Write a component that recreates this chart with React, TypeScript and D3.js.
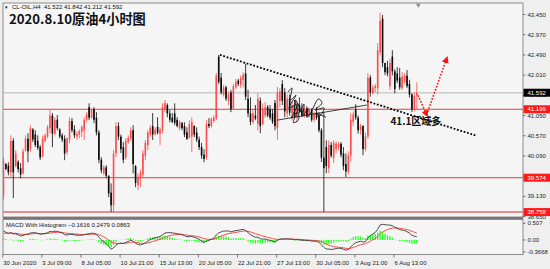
import React, { useEffect, useRef } from 'react';
import * as d3 from 'd3';

// CL-OIL H4, 30 Jun - 10 Aug 2020. Each bar: [open, high, low, close]
const BARS: [number, number, number, number][] = [
  [39.15, 40.06, 39.04, 39.98], [39.90, 39.92, 39.75, 39.78], [39.86, 39.94, 39.63, 39.70], [39.70, 40.58, 39.59, 40.45],
  [40.45, 40.51, 39.09, 39.70], [39.85, 40.23, 39.82, 40.15], [39.95, 39.99, 39.70, 39.78], [39.80, 39.92, 39.56, 39.65],
  [39.68, 40.27, 39.65, 40.20], [40.22, 40.58, 40.20, 40.50], [40.50, 40.63, 39.94, 40.20], [40.25, 40.82, 40.18, 40.75],
  [40.72, 40.75, 40.42, 40.48], [40.60, 40.70, 40.30, 40.35], [40.45, 40.58, 40.23, 40.28], [40.30, 40.35, 39.99, 40.05],
  [40.08, 40.58, 40.05, 40.50], [40.45, 40.63, 40.42, 40.58], [40.55, 40.82, 40.51, 40.78], [40.75, 41.18, 40.63, 41.05],
  [41.05, 41.11, 40.30, 40.62], [40.62, 41.01, 40.58, 40.95], [40.95, 41.06, 40.70, 40.75], [40.72, 40.75, 40.51, 40.55],
  [40.58, 40.63, 40.42, 40.48], [40.50, 40.58, 39.99, 40.15], [40.18, 40.54, 40.12, 40.50], [40.48, 41.01, 40.39, 40.92],
  [40.92, 40.99, 40.65, 40.70], [40.72, 40.82, 40.51, 40.58], [40.55, 40.68, 40.47, 40.62], [40.60, 40.72, 40.51, 40.68],
  [40.66, 40.82, 40.54, 40.78], [40.70, 41.01, 40.47, 40.95], [40.95, 41.13, 40.89, 41.08], [41.25, 41.34, 40.94, 41.00],
  [41.00, 41.22, 40.98, 41.18], [41.20, 41.25, 40.87, 40.95], [41.00, 41.13, 40.58, 40.65], [40.65, 40.70, 39.92, 40.00],
  [40.00, 40.06, 39.68, 39.75], [39.68, 39.87, 39.63, 39.82], [39.82, 39.87, 39.56, 39.62], [39.62, 39.63, 39.11, 39.20],
  [39.22, 39.44, 38.76, 38.92], [38.92, 40.23, 38.76, 40.15], [40.15, 40.89, 40.06, 40.80], [40.80, 40.89, 40.47, 40.55],
  [40.55, 40.60, 40.16, 40.25], [40.30, 40.42, 39.92, 40.00], [40.05, 40.51, 40.00, 40.45], [40.42, 40.58, 40.38, 40.52],
  [40.50, 40.77, 40.45, 40.70], [40.70, 40.82, 39.68, 39.90], [39.85, 39.87, 39.35, 39.45], [39.40, 39.68, 39.28, 39.60],
  [39.55, 39.76, 39.35, 39.70], [39.65, 40.23, 39.59, 40.15], [40.10, 40.47, 39.99, 40.40], [40.35, 40.70, 40.23, 40.65],
  [40.60, 40.82, 40.54, 40.76], [40.80, 41.11, 40.47, 40.60], [40.60, 40.77, 40.58, 40.72], [40.78, 41.01, 40.60, 40.64],
  [40.62, 40.77, 40.35, 40.72], [40.70, 41.34, 40.63, 41.25], [41.20, 41.42, 41.13, 41.35], [41.30, 41.34, 41.01, 41.10],
  [41.10, 41.18, 40.89, 40.95], [41.00, 41.11, 40.87, 40.90], [41.10, 41.34, 40.82, 40.88], [40.95, 41.01, 40.77, 40.80],
  [40.75, 40.94, 40.70, 40.90], [40.88, 40.89, 40.70, 40.75], [40.80, 40.89, 40.54, 40.60], [40.65, 40.77, 40.47, 40.50],
  [40.52, 40.94, 40.50, 40.85], [40.55, 41.01, 40.18, 40.90], [40.80, 40.82, 40.54, 40.60], [40.65, 40.77, 40.42, 40.48],
  [40.48, 40.55, 40.23, 40.30], [40.30, 40.40, 40.02, 40.10], [40.12, 40.25, 39.94, 40.02], [40.05, 40.94, 40.00, 40.85],
  [40.85, 40.99, 40.75, 40.80], [40.80, 41.01, 40.76, 40.97], [40.92, 41.06, 40.88, 41.00], [40.98, 42.06, 40.94, 42.00],
  [42.45, 42.49, 41.80, 41.85], [41.95, 42.06, 41.55, 41.60], [41.55, 41.78, 41.50, 41.72], [41.72, 41.76, 41.40, 41.45],
  [41.40, 41.62, 41.30, 41.55], [41.60, 41.66, 41.13, 41.20], [41.22, 41.80, 41.18, 41.75], [41.72, 41.92, 41.68, 41.85],
  [41.88, 41.92, 41.75, 41.80], [41.78, 42.00, 41.70, 41.95], [41.90, 42.08, 41.72, 42.02], [42.05, 42.28, 41.42, 41.50],
  [41.45, 41.66, 41.01, 41.10], [41.10, 41.48, 40.82, 40.90], [40.90, 41.20, 40.85, 41.10], [41.05, 41.30, 40.94, 40.98],
  [40.85, 41.58, 40.70, 41.45], [41.40, 41.48, 40.63, 40.80], [40.85, 41.34, 40.82, 41.20], [41.05, 41.37, 41.00, 41.25],
  [41.25, 41.30, 41.01, 41.05], [41.20, 41.30, 40.95, 41.00], [41.10, 41.20, 40.85, 40.90], [41.35, 41.42, 40.70, 40.80],
  [40.75, 41.73, 40.47, 41.60], [41.40, 41.70, 41.25, 41.62], [41.80, 41.89, 41.30, 41.40], [41.60, 41.70, 41.01, 41.15],
  [41.10, 41.55, 41.00, 41.45], [41.45, 41.55, 41.05, 41.12], [41.10, 41.40, 40.95, 41.30], [41.30, 41.42, 40.99, 41.05],
  [41.00, 41.35, 40.90, 41.28], [41.30, 41.48, 41.10, 41.15], [41.18, 41.34, 41.01, 41.05], [41.05, 41.25, 41.00, 41.20],
  [41.20, 41.27, 41.01, 41.05], [41.05, 41.22, 41.00, 41.18], [41.18, 41.22, 40.90, 40.95], [40.95, 41.15, 40.90, 41.10],
  [41.12, 41.25, 40.95, 41.00], [41.05, 41.13, 40.65, 40.70], [40.70, 40.75, 39.95, 40.05], [40.05, 41.13, 38.76, 39.80],
  [40.30, 40.46, 39.68, 39.85], [39.80, 40.46, 39.68, 40.35], [40.35, 40.42, 40.05, 40.10], [40.05, 40.47, 39.92, 40.40],
  [40.25, 40.44, 40.15, 40.38], [40.30, 40.42, 40.22, 40.38], [40.38, 40.42, 40.06, 40.12], [40.15, 40.30, 39.75, 39.85],
  [39.90, 40.15, 39.59, 39.72], [39.72, 40.20, 39.65, 40.10], [40.10, 41.11, 39.95, 40.95], [40.90, 41.15, 40.80, 41.08],
  [41.20, 41.32, 40.95, 41.00], [41.00, 41.05, 40.62, 40.70], [40.70, 40.85, 40.60, 40.80], [40.80, 40.82, 40.11, 40.25],
  [40.25, 40.65, 40.20, 40.55], [40.55, 42.06, 40.50, 41.95], [41.95, 42.01, 41.50, 41.60], [41.58, 41.78, 41.55, 41.72],
  [41.70, 41.80, 41.60, 41.75], [41.70, 42.77, 41.55, 42.60], [42.55, 43.49, 42.48, 43.30], [43.35, 43.44, 42.20, 42.30],
  [42.30, 42.30, 42.01, 42.08], [42.20, 42.35, 41.98, 42.05], [41.75, 42.40, 41.66, 42.30], [42.45, 42.60, 42.00, 42.10],
  [42.10, 42.15, 41.58, 41.68], [42.05, 42.20, 41.82, 41.88], [41.95, 42.18, 41.66, 41.72], [41.70, 42.08, 41.66, 41.98],
  [41.85, 42.06, 41.80, 42.00], [42.00, 42.13, 41.70, 41.75], [41.80, 41.90, 41.48, 41.55], [41.55, 41.58, 41.13, 41.20],
  [41.20, 41.60, 41.15, 41.52], [41.522, 41.842, 41.212, 41.592],
];

const TIME_LABELS = ['30 Jun 2020', '3 Jul 09:00', '8 Jul 05:00', '10 Jul 21:00', '15 Jul 13:00', '20 Jul 05:00',
  '22 Jul 21:00', '27 Jul 13:00', '30 Jul 05:00', '3 Aug 21:00', '6 Aug 13:00'];
const BARS_PER_LABEL = 16;

const PRICE_TICKS = [43.45, 42.97, 42.49, 42.01, 41.53, 41.05, 40.57, 40.09, 39.61, 39.13, 38.65];
const BID = 41.592;
const LEVELS = [41.199, 39.574, 38.758];

const MACD_TICKS = [0.507, 0, -0.3668];
const MACD_TICK_LABELS = ['0.507', '0.00', '-0.3668'];
// values printed in the MACD header of the reference
const MACD_HEADER = [-0.1616, 0.2479, 0.0863];
// MACD/signal values at the first bar (the history before it is off screen)
const MACD_START = 0.27;
const SIGNAL_START = 0.2;

// annotations, in [bar, price]
const TREND = [[88.5, 42.49], [193.5, 40.57]];
const HAND_LINE = [[111.8, 40.94], [148.6, 41.3]];
const SIGNATURE = [
  [116.3, 41.6], [118.0, 41.7], [117.2, 41.42], [119.6, 41.53], [116.7, 41.23], [120.4, 41.32], [117.6, 40.99],
  [120.0, 41.13], [118.4, 40.89], [120.8, 40.99], [119.2, 41.42], [121.2, 41.23], [121.2, 41.13], [122.9, 41.32],
  [122.5, 41.04], [124.5, 41.23], [124.1, 41.01], [125.7, 41.13], [126.6, 41.23], [128.6, 41.44], [130.2, 41.34],
  [127.4, 41.18], [131.1, 41.23], [129.4, 41.04], [127.8, 41.11], [131.9, 41.01],
];
const ARROW_DOWN = [[169.5, 41.53], [173.0, 41.07]];
const ARROW_UP = [[173.0, 41.07], [181.2, 42.4]];

const TITLE = '2020.8.10原油4小时图';
const NOTE = '41.1区域多';

const SMALL = 'Liberation Sans, Arial, sans-serif';

export default function App() {
  const ref = useRef<SVGSVGElement | null>(null);

  useEffect(() => {
    const svg = d3.select(ref.current);
    svg.selectAll('*').remove();

    const left = 3, right = 523, top = 3, mainBottom = 217, macdTop = 219.5, macdBottom = 254.5;

    const x = d3.scaleLinear().domain([0, BARS.length - 1]).range([3.5, 3.5 + 2.4456 * (BARS.length - 1)]);
    const y = d3.scaleLinear().domain([38.65, 43.45]).range([216.6, 14.5]);
    const ym = d3.scaleLinear().domain([-0.3668, 0.507]).range([252, 223.3]);

    // MACD 12/26/9
    const closes = BARS.map(b => b[3]);
    let e12 = closes[0], e26 = closes[0] - MACD_START, sig = SIGNAL_START;
    const macd: number[] = [], signal: number[] = [];
    closes.forEach((c, i) => {
      if (i > 0) {
        e12 = c * 2 / 13 + e12 * 11 / 13;
        e26 = c * 2 / 27 + e26 * 25 / 27;
      }
      const m = e12 - e26;
      if (i > 0) sig = m * 0.2 + sig * 0.8;
      macd.push(m);
      signal.push(sig);
    });

    svg.append('rect').attr('width', 550).attr('height', 269).attr('fill', '#efefef');
    svg.append('rect').attr('x', left).attr('y', top).attr('width', right - left).attr('height', mainBottom - top).attr('fill', '#f5f5f5');
    svg.append('rect').attr('x', left).attr('y', macdTop).attr('width', right - left).attr('height', macdBottom - macdTop).attr('fill', '#f5f5f5');

    const defs = svg.append('defs');
    defs.append('clipPath').attr('id', 'mainClip').append('rect')
      .attr('x', left).attr('y', top).attr('width', right - left).attr('height', mainBottom - top);
    defs.append('clipPath').attr('id', 'macdClip').append('rect')
      .attr('x', left).attr('y', macdTop).attr('width', right - left).attr('height', macdBottom - macdTop);
    defs.append('marker').attr('id', 'redArrow').attr('viewBox', '0 0 10 10').attr('refX', 6).attr('refY', 5)
      .attr('markerWidth', 7).attr('markerHeight', 7).attr('markerUnits', 'userSpaceOnUse').attr('orient', 'auto')
      .append('path').attr('d', 'M0,0 L10,5 L0,10 Z').attr('fill', '#ff1010');

    const main = svg.append('g').attr('clip-path', 'url(#mainClip)');

    // bid line and horizontal levels
    main.append('line').attr('x1', left).attr('x2', right).attr('y1', y(BID)).attr('y2', y(BID))
      .attr('stroke', '#cdcdcd').attr('stroke-width', 1.6);
    const levelStyle = [['#ec3c3c', 1], ['#ef5c5c', 1.3], ['#f08a8a', 2]];
    LEVELS.forEach((p, i) => {
      main.append('line').attr('x1', left).attr('x2', right).attr('y1', y(p)).attr('y2', y(p))
        .attr('stroke', levelStyle[i][0] as string).attr('stroke-width', levelStyle[i][1] as number);
    });

    // candles
    const candle = main.append('g').selectAll('g').data(BARS).join('g');
    const col = (d: number[]) => (d[3] >= d[0] ? '#ff4d4d' : '#0a0a0a');
    candle.append('line')
      .attr('x1', (d, i) => x(i)).attr('x2', (d, i) => x(i))
      .attr('y1', d => y(d[1])).attr('y2', d => y(d[2]))
      .attr('stroke', col).attr('stroke-width', 0.8);
    candle.append('rect')
      .attr('x', (d, i) => x(i) - 0.8).attr('width', 1.6)
      .attr('y', d => y(Math.max(d[0], d[3])))
      .attr('height', d => Math.max(0.8, Math.abs(y(d[0]) - y(d[3]))))
      .attr('fill', col);

    // dotted trendline
    const line = d3.line<number[]>().x(d => x(d[0])).y(d => y(d[1]));
    main.append('path').attr('d', line(TREND)).attr('fill', 'none').attr('stroke', '#000')
      .attr('stroke-width', 1.8).attr('stroke-dasharray', '1.8 1.7');

    // hand-drawn line and signature
    main.append('path').attr('d', line(HAND_LINE)).attr('fill', 'none').attr('stroke', '#111').attr('stroke-width', 0.8);
    main.append('path').attr('d', line.curve(d3.curveCardinal)(SIGNATURE)).attr('fill', 'none')
      .attr('stroke', '#111').attr('stroke-width', 0.9);
    line.curve(d3.curveLinear);

    // red dotted arrows
    [ARROW_DOWN, ARROW_UP].forEach(seg => {
      main.append('path').attr('d', line(seg)).attr('fill', 'none').attr('stroke', '#ff1010')
        .attr('stroke-width', 1.6).attr('stroke-dasharray', '1.6 1.6').attr('marker-end', 'url(#redArrow)');
    });

    main.append('text').attr('x', x(158.2)).attr('y', y(40.83)).text(NOTE)
      .attr('font-family', 'Noto Sans CJK SC, sans-serif').attr('font-weight', 700).attr('font-size', 10).attr('fill', '#111');

    // MACD panel
    const mg = svg.append('g').attr('clip-path', 'url(#macdClip)');
    mg.append('g').selectAll('rect').data(macd).join('rect')
      .attr('x', (d, i) => x(i) - 0.7).attr('width', 1.4)
      .attr('y', (d, i) => Math.min(ym(0), ym(d - signal[i])))
      .attr('height', (d, i) => Math.abs(ym(0) - ym(d - signal[i])))
      .attr('fill', '#2cff2c');
    const ml = d3.line<number>().x((d, i) => x(i)).y(d => ym(d));
    mg.append('path').attr('d', ml(signal)).attr('fill', 'none').attr('stroke', '#ff4a4a').attr('stroke-width', 1);
    mg.append('path').attr('d', ml(macd)).attr('fill', 'none').attr('stroke', '#3a3a3a').attr('stroke-width', 0.9);

    // frames
    svg.append('rect').attr('x', left).attr('y', top).attr('width', right - left).attr('height', mainBottom - top)
      .attr('fill', 'none').attr('stroke', '#8c8c8c').attr('stroke-width', 1);
    svg.append('rect').attr('x', left).attr('y', mainBottom).attr('width', right - left).attr('height', 2.4).attr('fill', '#777');
    svg.append('rect').attr('x', left).attr('y', macdTop).attr('width', right - left).attr('height', macdBottom - macdTop)
      .attr('fill', 'none').attr('stroke', '#8c8c8c').attr('stroke-width', 1);
    svg.append('path').attr('d', d3.symbol(d3.symbolTriangle, 12)()).attr('fill', '#999')
      .attr('transform', `translate(${x(BARS.length - 1) + 1.5},5) rotate(180)`);

    // price axis
    const ax = svg.append('g').attr('font-family', SMALL).attr('font-size', 6).attr('fill', '#222');
    PRICE_TICKS.forEach(p => {
      ax.append('line').attr('x1', right).attr('x2', right + 2.5).attr('y1', y(p)).attr('y2', y(p)).attr('stroke', '#444').attr('stroke-width', 0.7);
      ax.append('text').attr('x', right + 4.5).attr('y', y(p)).attr('dy', '0.35em').text(d3.format('.3f')(p));
    });
    const box = (p: number, fill: string) => {
      ax.append('rect').attr('x', right + 0.5).attr('y', y(p) - 4).attr('width', 27).attr('height', 8).attr('fill', fill);
      ax.append('text').attr('x', right + 4.5).attr('y', y(p)).attr('dy', '0.35em').attr('fill', '#fff').text(d3.format('.3f')(p));
    };
    box(BID, '#000');
    LEVELS.forEach(p => box(p, '#ff1a1a'));

    MACD_TICKS.forEach((v, i) => {
      ax.append('line').attr('x1', right).attr('x2', right + 2.5).attr('y1', ym(v)).attr('y2', ym(v)).attr('stroke', '#444').attr('stroke-width', 0.7);
      ax.append('text').attr('x', right + 4.5).attr('y', ym(v)).attr('dy', '0.35em').text(MACD_TICK_LABELS[i]);
    });

    // time axis
    TIME_LABELS.forEach((t, k) => {
      const xx = x(k * BARS_PER_LABEL);
      ax.append('line').attr('x1', xx - 0.8).attr('x2', xx - 0.8).attr('y1', macdBottom).attr('y2', macdBottom + 3).attr('stroke', '#444').attr('stroke-width', 0.7);
      ax.append('text').attr('x', xx - 0.3).attr('y', 264.5).text(t);
    });

    // header texts
    const hdr = svg.append('g').attr('font-family', SMALL).attr('fill', '#111');
    hdr.append('text').attr('x', 4).attr('y', 8.6).attr('font-size', 4.5).text('▼');
    hdr.append('text').attr('x', 12).attr('y', 8.6).attr('font-size', 6).attr('xml:space', 'preserve')
      .text(`CL-OIL,H4  ${BARS[BARS.length - 1].map(d => d3.format('.3f')(d)).join(' ')}`);
    hdr.append('text').attr('x', 6).attr('y', 227.3).attr('font-size', 6)
      .text(`MACD With Histogram ${MACD_HEADER.map(d => d3.format('.4f')(d)).join(' ')}`);
    svg.append('text').attr('x', 9).attr('y', 23.5).text(TITLE)
      .attr('font-family', 'Noto Sans CJK SC, sans-serif').attr('font-weight', 700).attr('font-size', 13.2).attr('fill', '#111');
  }, []);

  return <svg ref={ref} width={550} height={269} style={{ position: 'absolute', left: 0, top: 0, display: 'block' }} />;
}
